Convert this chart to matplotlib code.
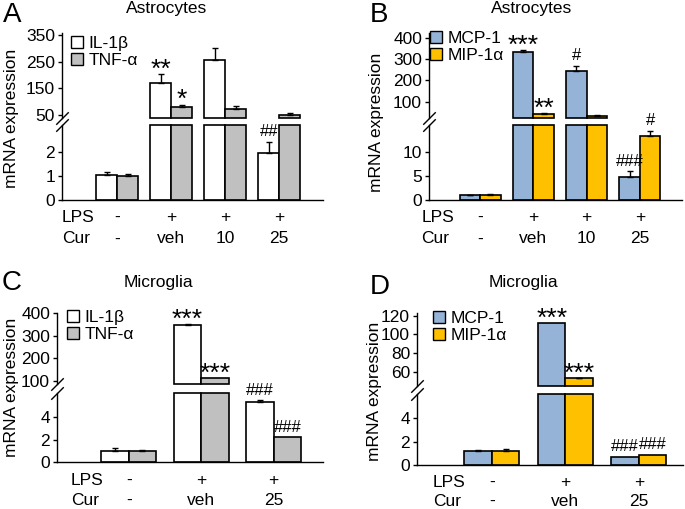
import matplotlib.pyplot as plt
from matplotlib.patches import Patch

plt.rcParams['font.family'] = ['Liberation Sans', 'DejaVu Sans']

W, H = 685, 509

# ---- data ----
lps_a = ['-', '+', '+', '+']
cur_a = ['-', 'veh', '10', '25']
il1b_a = [1.04, 172, 259, 1.94]
il1b_a_err = [0.14, 32, 43, 0.46]
tnf_a = [1.01, 78, 72, 50]
tnf_a_err = [0.07, 11, 12, 7]
marks_a = [(0, 1, '**'), (1, 1, '*'), (0, 3, '##')]

lps_b = ['-', '+', '+', '+']
cur_b = ['-', 'veh', '10', '25']
mcp_b = [1.0, 333, 245, 4.8]
mcp_b_err = [0.1, 12, 22, 1.1]
mip_b = [1.1, 40, 34, 13.3]
mip_b_err = [0.1, 5, 4, 1.0]
marks_b = [(0, 1, '***'), (1, 1, '**'), (0, 2, '#'), (0, 3, '###'), (1, 3, '#')]

lps_c = ['-', '+', '+']
cur_c = ['-', 'veh', '25']
il1b_c = [1.03, 350, 5.33]
il1b_c_err = [0.2, 2, 0.17]
tnf_c = [1.02, 113, 2.22]
tnf_c_err = [0.05, 0, 0]
marks_c = [(0, 1, '***'), (1, 1, '***'), (0, 2, '###'), (1, 2, '###')]

lps_d = ['-', '+', '+']
cur_d = ['-', 'veh', '25']
mcp_d = [1.2, 112, 0.66]
mcp_d_err = [0.12, 0, 0]
mip_d = [1.2, 53, 0.86]
mip_d_err = [0.17, 0.4, 0]
marks_d = [(0, 1, '***'), (1, 1, '***'), (0, 2, '###'), (1, 2, '###')]

cyto_names = ['IL-1\u03b2', 'TNF-\u03b1']
chemo_names = ['MCP-1', 'MIP-1\u03b1']
cyto_colors = ['white', '#C0C0C0']
chemo_colors = ['#95B3D7', '#FFC000']

FS = 12.5

fig = plt.figure(figsize=(W / 100, H / 100), dpi=100)


def px_axes(x0, x1, y0, y1):
    return fig.add_axes([x0 / W, 1 - y1 / H, (x1 - x0) / W, (y1 - y0) / H])


def fpos(x, y):
    return x / W, 1 - y / H


def panel(box, ulim, llim, uticks, lticks, xlim, width, vals, errs, colors, names,
          marks, lps, cur, lab_x, leg_xy, cur_off=-28):
    x0, x1, uy0, uy1, ly0, ly1 = box
    up = px_axes(x0, x1, uy0, uy1)
    low = px_axes(x0, x1, ly0, ly1)
    up.patch.set_visible(False)
    lo, hi = llim[1], ulim[0]

    for s, (v, e, c) in enumerate(zip(vals, errs, colors)):
        for i in range(len(v)):
            x = i + (s - 0.5) * width
            if v[i] > hi:
                up.bar(x, v[i] - hi, width, bottom=hi, color=c, edgecolor='k',
                       linewidth=1.2, clip_on=False)
                if e[i] > 0:
                    up.errorbar(x, v[i], yerr=[[0], [e[i]]], fmt='none', ecolor='k',
                                elinewidth=1, capsize=2.5, capthick=1)
            low.bar(x, min(v[i], lo), width, color=c, edgecolor='k',
                    linewidth=1.2, clip_on=False)
            if v[i] < lo and e[i] > 0:
                low.errorbar(x, v[i], yerr=[[0], [e[i]]], fmt='none', ecolor='k',
                             elinewidth=1, capsize=2.5, capthick=1)

    for s, i, txt in marks:
        x = i + (s - 0.5) * width
        y = vals[s][i] + errs[s][i]
        ax = up if vals[s][i] > hi else low
        if '*' in txt:
            ax.annotate(txt, (x, y), xytext=(0, -2), textcoords='offset points',
                        ha='center', va='baseline', fontsize=19)
        else:
            ax.annotate(txt, (x, y), xytext=(0, 4.2), textcoords='offset points',
                        ha='center', va='baseline', fontsize=12)

    up.set_ylim(*ulim)
    low.set_ylim(*llim)
    up.set_yticks(uticks)
    low.set_yticks(lticks)
    for ax in (up, low):
        ax.set_xlim(*xlim)
        ax.set_xticks([])
        ax.spines['top'].set_visible(False)
        ax.spines['right'].set_visible(False)
        ax.spines['left'].set_linewidth(1)
        ax.spines['bottom'].set_linewidth(1)
        ax.tick_params(axis='y', direction='out', length=3, width=1, pad=2, labelsize=FS)
    up.spines['bottom'].set_visible(False)

    kw = dict(marker=[(-1, -1), (1, 1)], markersize=9, linestyle='none', color='k',
              mec='k', mew=1, clip_on=False)
    up.plot([0], [0], transform=up.transAxes, **kw)
    low.plot([0], [1], transform=low.transAxes, **kw)

    for i in range(len(lps)):
        low.annotate(lps[i], (i, 0), xycoords=('data', 'axes fraction'), xytext=(0, -12.8),
                     textcoords='offset points', ha='center', va='center', fontsize=FS)
        low.annotate(cur[i], (i, 0), xycoords=('data', 'axes fraction'), xytext=(0, cur_off),
                     textcoords='offset points', ha='center', va='center', fontsize=FS)
    low.annotate('LPS', (lab_x, 0), xycoords='axes fraction', xytext=(0, -12.8),
                 textcoords='offset points', ha='left', va='center', fontsize=FS)
    low.annotate('Cur', (lab_x, 0), xycoords='axes fraction', xytext=(0, cur_off),
                 textcoords='offset points', ha='left', va='center', fontsize=FS)

    handles = [Patch(facecolor=c, edgecolor='k', linewidth=1) for c in colors]
    up.legend(handles, names, loc='upper left', bbox_to_anchor=fpos(*leg_xy),
              bbox_transform=fig.transFigure, frameon=False, fontsize=FS,
              handlelength=0.7, handleheight=0.7, handletextpad=0.3,
              borderaxespad=0, borderpad=0, labelspacing=0.12)
    return up, low


panel((62, 323, 33.3, 118.3, 125, 200), (37, 358), (0, 3.12), [50, 150, 250, 350], [0, 1, 2],
      (-1.02, 3.81), 0.39, [il1b_a, tnf_a], [il1b_a_err, tnf_a_err], cyto_colors, cyto_names,
      marks_a, lps_a, cur_a, 0.0, (71, 36))
panel((429, 682, 33.3, 118.3, 125, 200), (21, 423), (0, 15.5), [100, 200, 300, 400], [0, 5, 10],
      (-0.96, 3.79), 0.385, [mcp_b, mip_b], [mcp_b_err, mip_b_err], chemo_colors, chemo_names,
      marks_b, lps_b, cur_b, -0.03, (430, 31))
panel((57, 323, 313, 384.3, 392.7, 462.3), (84, 402), (0, 6.19), [100, 200, 300, 400], [0, 2, 4],
      (-0.99, 2.68), 0.377, [il1b_c, tnf_c], [il1b_c_err, tnf_c_err], cyto_colors, cyto_names,
      marks_c, lps_c, cur_c, 0.053, (67, 310), cur_off=-27.5)
panel((417, 683, 313, 386, 394, 465), (44.6, 123), (0, 6.07), [60, 80, 100, 120], [0, 2, 4],
      (-1.02, 2.6), 0.374, [mcp_d, mip_d], [mcp_d_err, mip_d_err], chemo_colors, chemo_names,
      marks_d, lps_d, cur_d, 0.06, (433, 311), cur_off=-26.5)

for txt, x, y in [('Astrocytes', 167, 9), ('Astrocytes', 532, 9),
                  ('Microglia', 158, 283), ('Microglia', 523, 283)]:
    fig.text(*fpos(x, y), txt, ha='center', va='center', fontsize=FS)

for txt, x, y in [('A', 12.5, 14.5), ('B', 379.5, 15.5), ('C', 11.5, 283.5), ('D', 380, 286.5)]:
    fig.text(*fpos(x, y), txt, ha='center', va='center', fontsize=20)

for x, y in [(12, 118), (377, 122), (12, 387), (375, 391)]:
    fig.text(*fpos(x, y), 'mRNA expression', ha='center', va='center', rotation=90, fontsize=12.5)

fig.savefig('out.png', dpi=100)
